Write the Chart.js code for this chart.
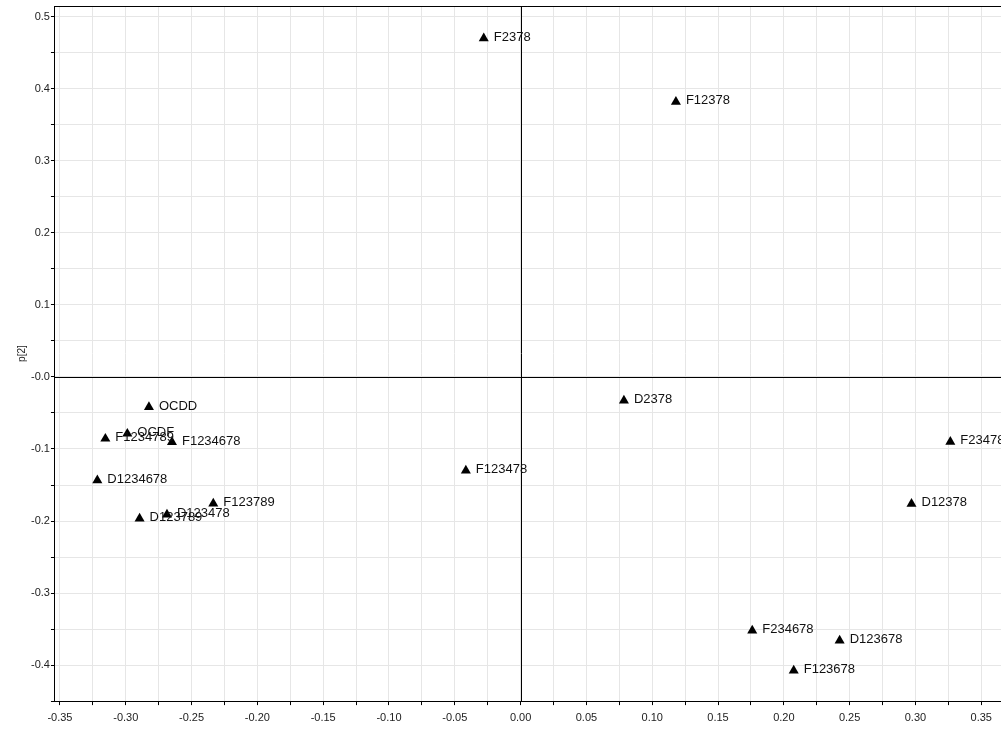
<!DOCTYPE html>
<html>
<head>
<meta charset="utf-8">
<script src="https://cdn.jsdelivr.net/npm/chart.js@4/dist/chart.umd.min.js"></script>
<style>
  html, body { margin: 0; padding: 0; background: #fff; overflow: hidden; }
  #wrap { width: 1001px; height: 731px; position: relative; }
</style>
</head>
<body>
<div id="wrap"><canvas id="loadingPlot"></canvas></div>
<script>
// Loadings p[1] vs p[2]
const names = ['F2378', 'F12378', 'D2378', 'F23478', 'D12378', 'F234678', 'D123678', 'F123678',
    'F123478', 'OCDD', 'F1234789', 'OCDF', 'F1234678', 'D1234678', 'F123789', 'D123478', 'D123789'];
const xValues = [-0.028, 0.118, 0.0785, 0.3265, 0.297, 0.176, 0.2424, 0.2075,
    -0.0416, -0.2824, -0.3155, -0.2988, -0.2649, -0.3216, -0.2335, -0.2687, -0.2895];
const yValues = [0.470, 0.382, -0.0327, -0.090, -0.176, -0.352, -0.366, -0.4075,
    -0.130, -0.0418, -0.0857, -0.0788, -0.0903, -0.1435, -0.1759, -0.191, -0.1967];
const yTitle = 'p[2]';

const gridColor = '#e6e6e6';

function isMultiple(v, step) {
    const r = v / step;
    return Math.abs(r - Math.round(r)) < 1e-6;
}

// point names drawn to the right of each marker
const pointLabels = {
    id: 'pointLabels',
    afterDatasetsDraw(chart) {
        const c = chart.ctx;
        const meta = chart.getDatasetMeta(0);
        c.save();
        c.font = '13px "Liberation Sans", Arial, sans-serif';
        c.fillStyle = '#111';
        c.textBaseline = 'middle';
        c.textAlign = 'left';
        meta.data.forEach((pt, i) => {
            c.fillText(names[i], pt.x + 10, pt.y - 1);
        });
        c.restore();
    }
};

// black zero lines + top frame line
const frameLines = {
    id: 'frameLines',
    beforeDatasetsDraw(chart) {
        const a = chart.chartArea;
        const c = chart.ctx;
        const x0 = Math.round(chart.scales.x.getPixelForValue(0)) + 0.5;
        const y0 = Math.round(chart.scales.y.getPixelForValue(0)) + 0.5;
        c.save();
        c.strokeStyle = '#000';
        c.lineWidth = 1;
        c.beginPath();
        c.moveTo(x0, a.top);
        c.lineTo(x0, a.bottom);
        c.moveTo(a.left, y0);
        c.lineTo(a.right, y0);
        c.moveTo(a.left, a.top + 0.5);
        c.lineTo(a.right, a.top + 0.5);
        c.stroke();
        c.restore();
    }
};

const ctx = document.getElementById('loadingPlot').getContext('2d');
new Chart(ctx, {
    type: 'scatter',
    data: {
        datasets: [{
            label: 'Loadings',
            data: xValues.map((x, i) => ({ x: x, y: yValues[i] })),
            pointStyle: 'triangle',
            pointRadius: 5.8,
            pointHoverRadius: 5.8,
            backgroundColor: '#000',
            borderColor: '#000',
            borderWidth: 0
        }]
    },
    options: {
        responsive: true,
        maintainAspectRatio: false,
        animation: false,
        layout: { autoPadding: false, padding: { top: 6, right: 0, bottom: 0, left: 16 } },
        plugins: {
            legend: { display: false },
            tooltip: { enabled: false }
        },
        scales: {
            x: {
                type: 'linear',
                min: -0.3538,
                max: 0.365,
                border: { color: '#000', width: 1 },
                grid: { color: gridColor, tickColor: '#000', tickLength: 4 },
                ticks: {
                    stepSize: 0.025,
                    includeBounds: false,
                    autoSkip: false,
                    maxRotation: 0,
                    padding: 8,
                    color: '#222',
                    font: { family: '"Liberation Sans", Arial, sans-serif', size: 11, lineHeight: 0.9 },
                    callback: v => isMultiple(v, 0.05) ? (Math.round(v * 100) / 100).toFixed(2) : ''
                }
            },
            y: {
                type: 'linear',
                min: -0.45,
                max: 0.515,
                border: { color: '#000', width: 1 },
                grid: { color: gridColor, tickColor: '#000', tickLength: 4 },
                title: {
                    display: true,
                    text: yTitle,
                    color: '#222',
                    font: { family: '"Liberation Sans", Arial, sans-serif', size: 10 },
                    padding: { top: 0, bottom: 2 }
                },
                ticks: {
                    stepSize: 0.05,
                    includeBounds: false,
                    autoSkip: false,
                    padding: 1,
                    color: '#222',
                    font: { family: '"Liberation Sans", Arial, sans-serif', size: 11, lineHeight: 0.9 },
                    callback: v => {
                        if (!isMultiple(v, 0.1)) return '';
                        if (Math.abs(v) < 1e-9) return '-0.0';
                        return (Math.round(v * 10) / 10).toFixed(1);
                    }
                }
            }
        }
    },
    plugins: [pointLabels, frameLines]
});
</script>
</body>
</html>
